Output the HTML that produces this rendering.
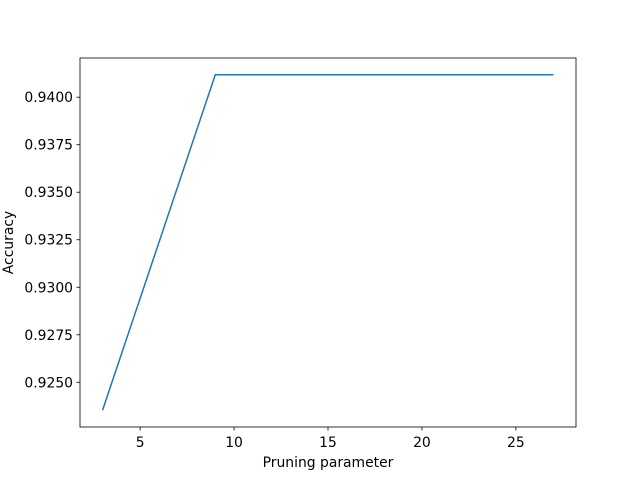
<!DOCTYPE html>
<html><head><meta charset="utf-8"><style>
body{margin:0;background:#fff}
svg text{font-family:"DejaVu Sans","Liberation Sans",sans-serif;font-size:13.9px;fill:#000}
</style></head><body>
<svg id="c" width="640" height="480"></svg>
<script>
const xValues=[3,9,15,21,27];
const yValues=[0.92353,0.94118,0.94118,0.94118,0.94118];
const xTicks=[5,10,15,20,25];
const yTicks=[0.925,0.9275,0.93,0.9325,0.935,0.9375,0.94];
const yTickLabels=["0.9250","0.9275","0.9300","0.9325","0.9350","0.9375","0.9400"];
const L=80,R=576,T=58,B=427;
const NS="http://www.w3.org/2000/svg";
const svg=document.getElementById('c');
const xmin=Math.min(...xValues),xmax=Math.max(...xValues),ymin=Math.min(...yValues),ymax=Math.max(...yValues);
const xm=(xmax-xmin)*0.05,ym=(ymax-ymin)*0.05;
const sx=v=>L+(v-(xmin-xm))/((xmax+xm)-(xmin-xm))*(R-L);
const sy=v=>B-(v-(ymin-ym))/((ymax+ym)-(ymin-ym))*(B-T);
function mk(t,a,txt){const e=document.createElementNS(NS,t);for(const k in a)e.setAttribute(k,a[k]);if(txt!==undefined)e.textContent=txt;svg.appendChild(e);return e;}
xTicks.forEach(v=>{const x=sx(v);
const t=mk('line',{x1:x,x2:x,y1:B,y2:B+3.5,stroke:'#000','stroke-width':0.8});


const l=mk('text',{x:x,y:B+20,'text-anchor':'middle'},v);

});
yTicks.forEach((v,i)=>{const y=sy(v);
const t=mk('line',{x1:L-3.5,x2:L,y1:y,y2:y,stroke:'#000','stroke-width':0.8});


const l=mk('text',{x:L-7,y:y+5,'text-anchor':'end'},yTickLabels[i]);

});
const p=mk('polyline',{points:xValues.map((v,i)=>sx(v)+','+sy(yValues[i])).join(' '),fill:'none',stroke:'#1f77b4','stroke-width':1.5});


const f=mk('rect',{x:L,y:T,width:R-L,height:B-T,fill:'none',stroke:'#000','stroke-width':0.8});


const xt=mk('text',{x:(L+R)/2,y:467,'text-anchor':'middle'},'Pruning parameter');


const yt=mk('text',{x:13,y:(T+B)/2,'text-anchor':'middle',transform:'rotate(-90 13 '+(T+B)/2+')'},'Accuracy');


</script>
</body></html>
